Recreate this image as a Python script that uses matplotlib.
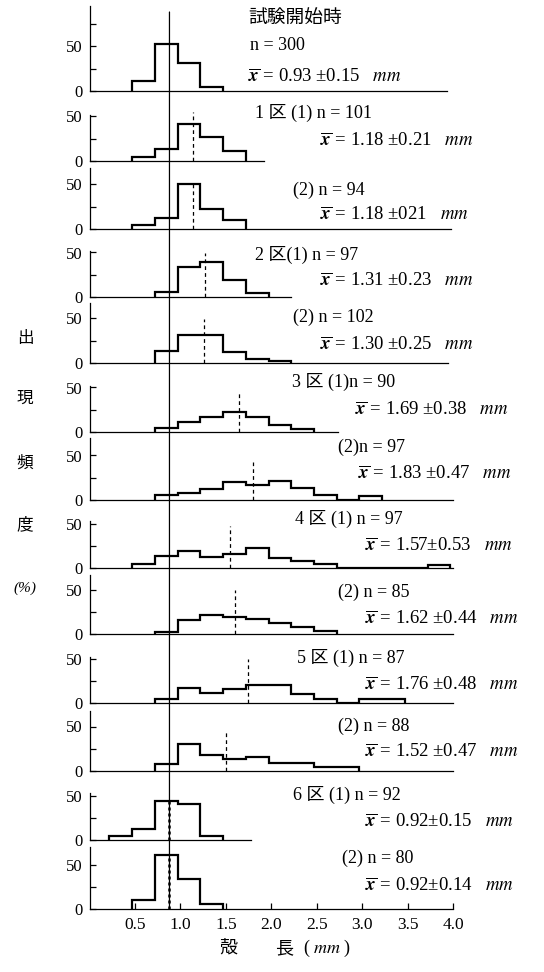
import matplotlib
matplotlib.use('Agg')
import matplotlib.pyplot as plt
from matplotlib.patches import ConnectionPatch
import numpy as np

plt.rcParams['font.family'] = ['Liberation Serif', 'Noto Sans CJK JP']
plt.rcParams['mathtext.fontset'] = 'stix'

# class edges of shell length (mm), 0.25 mm classes as drawn
edges = [0.22, 0.47, 0.72, 0.97, 1.22, 1.47, 1.72, 1.97, 2.22,
         2.47, 2.72, 2.97, 3.22, 3.47, 3.72, 3.97]

# frequency (%) per class, one list per sample
start = [0, 11, 53, 31, 4, 0, 0, 0, 0, 0, 0, 0, 0, 0, 0]
k1_1 = [0, 5, 13, 42, 27, 11, 0, 0, 0, 0, 0, 0, 0, 0, 0]
k1_2 = [0, 4, 12, 50, 22, 10, 0, 0, 0, 0, 0, 0, 0, 0, 0]
k2_1 = [0, 0, 6, 34, 39, 19, 5, 0, 0, 0, 0, 0, 0, 0, 0]
k2_2 = [0, 0, 13, 32, 32, 12, 4, 2, 0, 0, 0, 0, 0, 0, 0]
k3_1 = [0, 0, 5, 11, 17, 23, 17, 8, 3, 0, 0, 0, 0, 0, 0]
k3_2 = [0, 0, 6, 8, 12, 20, 17, 21, 13, 6, 0, 5, 0, 0, 0]
k4_1 = [0, 4, 14, 19, 12, 16, 23, 11, 8, 4, 0, 0, 0, 0, 3]
k4_2 = [0, 0, 2, 16, 21, 19, 17, 12, 8, 3, 0, 0, 0, 0, 0]
k5_1 = [0, 0, 5, 17, 11, 16, 20, 20, 10, 5, 0, 5, 5, 0, 0]
k5_2 = [0, 0, 8, 30, 18, 13, 16, 9, 9, 4, 4, 0, 0, 0, 0]
k6_1 = [5, 12, 44, 40, 4, 0, 0, 0, 0, 0, 0, 0, 0, 0, 0]
k6_2 = [0, 10, 61, 34, 6, 0, 0, 0, 0, 0, 0, 0, 0, 0, 0]
series = [start, k1_1, k1_2, k2_1, k2_2, k3_1, k3_2, k4_1, k4_2, k5_1, k5_2, k6_1, k6_2]

# mean marks (dashed) as drawn, None = no mark
means = [None, 1.14, 1.14, 1.27, 1.26, 1.65, 1.80, 1.55, 1.60, 1.74, 1.50, 0.88, 0.88]
mean_tops = [0, 55, 52, 49, 49, 46, 43, 47, 50, 49, 46, 44, 62]
ref_line = 0.88   # initial mean, solid line through all panels

title0 = '試験開始時'
labels_n = ['n = 300', '1 区 (1) n = 101', '(2) n = 94', '2 区(1) n = 97',
            '(2) n = 102', '3 区 (1)n = 90', '(2)n = 97', '4 区 (1) n = 97',
            '(2) n = 85', '5 区 (1) n = 87', '(2) n = 88', '6 区 (1) n = 92', '(2) n = 80']
labels_x = ['0.93 ±0.15', '1.18 ±0.21', '1.18 ±021', '1.31 ±0.23', '1.30 ±0.25',
            '1.69 ±0.38', '1.83 ±0.47', '1.57±0.53', '1.62 ±0.44', '1.76 ±0.48',
            '1.52 ±0.47', '0.92±0.15', '0.92±0.14']

# layout (pixels)
W, H = 544, 972
baselines = [91, 161, 229, 297, 363, 432, 500, 568, 634, 703, 771, 840, 909]
spine_tops = [95, 52, 68, 52, 67, 52, 70, 53, 66, 52, 67, 53, 70]
axis_ends = [3.93, 1.92, 3.98, 2.22, 3.94, 2.73, 4.0, 4.0, 4.0, 4.0, 4.0, 1.78, 4.0]
n_pos = [(250, 46), (255, 113), (293, 190), (255, 255), (293, 317), (292, 382),
         (338, 447), (295, 519), (338, 592), (297, 658), (338, 726), (293, 795), (342, 858)]
x_pos = [(248, 77), (320, 141), (320, 215), (320, 281), (320, 345), (355, 410),
         (358, 474), (365, 546), (365, 619), (365, 685), (365, 752), (365, 822), (365, 886)]

px_per_unit = 0.89
ylim_top = 100
left_px, right_px = 89.5, 453

fig = plt.figure(figsize=(W / 100, H / 100), dpi=100)
axes = []
for i, vals in enumerate(series):
    b = baselines[i]
    h = ylim_top * px_per_unit
    ax = fig.add_axes([left_px / W, (H - b) / H, (right_px - left_px) / W, h / H])
    ax.patch.set_visible(False)
    ax.set_xlim(0, 4.0)
    ax.set_ylim(0, ylim_top)
    for s in ['top', 'right']:
        ax.spines[s].set_visible(False)
    ax.spines['left'].set_bounds(0, spine_tops[i])
    ax.spines['bottom'].set_bounds(0, axis_ends[i])
    for s in ['left', 'bottom']:
        ax.spines[s].set_linewidth(0.9)

    v = np.array(vals, dtype=float)
    nz = np.nonzero(v)[0]
    lo, hi = nz[0], nz[-1] + 1
    ax.stairs(v[lo:hi], edges[lo:hi + 1], color='black', lw=1.6, baseline=0)

    if means[i] is not None:
        if i >= 11:
            ax.vlines(means[i], 0, mean_tops[i], colors='black', lw=1.8, linestyles=(0, (1.2, 1.2)))
        else:
            ax.vlines(means[i], 0, mean_tops[i], colors='black', lw=0.9, linestyles=(0, (3, 2.5)))

    yt = [0, 25, 50, 75] if i == 0 else [0, 25, 50]
    ax.set_yticks(yt)
    ax.set_yticklabels(['0', '', '50', ''][:len(yt)])
    ax.tick_params(axis='y', direction='in', length=4, width=0.9, labelsize=12, pad=5)
    if i == len(series) - 1:
        ax.set_xticks([0.5, 1.0, 1.5, 2.0, 2.5, 3.0, 3.5, 4.0])
        ax.set_xticklabels(['0.5', '1.0', '1.5', '2.0', '2.5', '3.0', '3.5', '4.0'])
        ax.tick_params(axis='x', direction='in', length=4, width=0.9, labelsize=12.5, pad=6)
    else:
        ax.set_xticks([])
    axes.append(ax)

    nx, ny = n_pos[i]
    fig.text(nx / W, 1 - ny / H, labels_n[i], fontsize=13, ha='left', va='center')
    xx, xy = x_pos[i]
    fig.text(xx / W, 1 - xy / H, r'$\overline{\mathbfit{x}}$ = ' + labels_x[i] + r'   $\mathit{mm}$',
             fontsize=13.5, ha='left', va='center')

fig.text(248 / W, 1 - 17 / H, title0, fontsize=13.5, ha='left', va='center',
         family='Noto Sans CJK JP')

# solid reference line running through every panel
top_units = (baselines[0] - 12) / px_per_unit
con = ConnectionPatch(xyA=(ref_line, top_units), coordsA=axes[0].transData,
                      xyB=(ref_line, 0), coordsB=axes[-1].transData,
                      color='black', lw=0.9)
fig.add_artist(con)

# y label, written vertically
for ch, yy in zip(['出', '現', '頻', '度'], [338, 398, 463, 525]):
    fig.text(25 / W, 1 - yy / H, ch, fontsize=12, ha='center', va='center',
             family='Noto Sans CJK JP')
fig.text(25 / W, 1 - 588 / H, '(%)', fontsize=11, ha='center', va='center', style='italic')

# x label
fig.text(228 / W, 1 - 948 / H, '殻', fontsize=13, ha='center', va='center', family='Noto Sans CJK JP')
fig.text(284 / W, 1 - 948 / H, '長', fontsize=13, ha='center', va='center', family='Noto Sans CJK JP')
fig.text(327 / W, 1 - 948 / H, r'( $\mathit{mm}$ )', fontsize=13, ha='center', va='center')

fig.savefig('out.png', dpi=100)
